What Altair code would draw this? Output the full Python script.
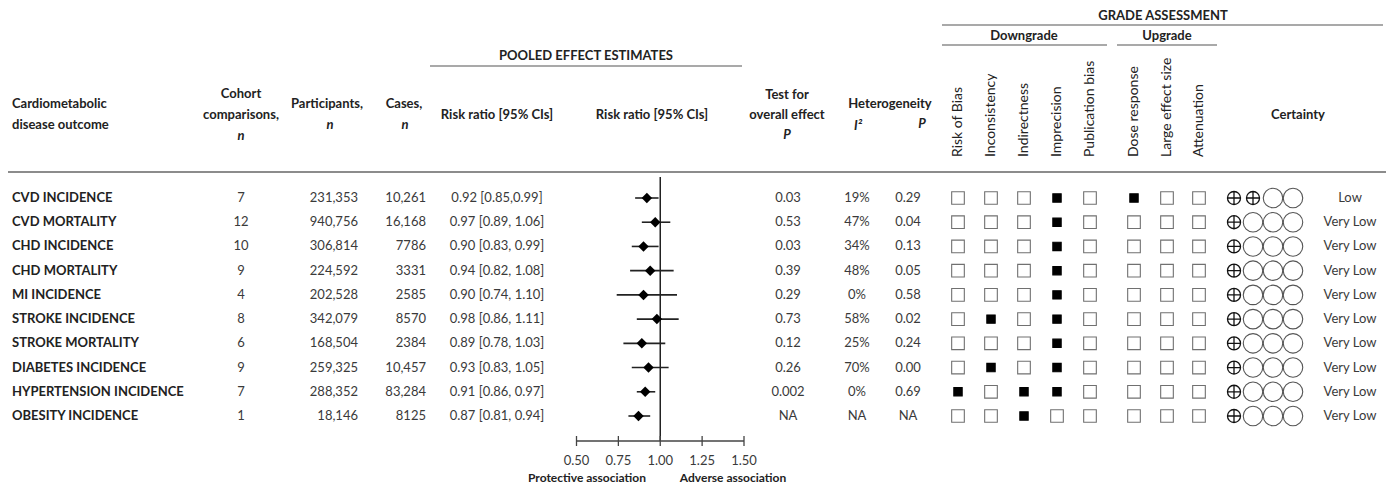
import altair as alt
import pandas as pd

# ---------------- data ----------------
outcomes = ["CVD INCIDENCE", "CVD MORTALITY", "CHD INCIDENCE", "CHD MORTALITY",
            "MI INCIDENCE", "STROKE INCIDENCE", "STROKE MORTALITY",
            "DIABETES INCIDENCE", "HYPERTENSION INCIDENCE", "OBESITY INCIDENCE"]
cohorts = [7, 12, 10, 9, 4, 8, 6, 9, 7, 1]
participants = ["231,353", "940,756", "306,814", "224,592", "202,528",
                "342,079", "168,504", "259,325", "288,352", "18,146"]
cases = ["10,261", "16,168", "7786", "3331", "2585", "8570", "2384",
         "10,457", "83,284", "8125"]
rr = [0.92, 0.97, 0.90, 0.94, 0.90, 0.98, 0.89, 0.93, 0.91, 0.87]
lo = [0.85, 0.89, 0.83, 0.82, 0.74, 0.86, 0.78, 0.83, 0.86, 0.81]
hi = [0.99, 1.06, 0.99, 1.08, 1.10, 1.11, 1.03, 1.05, 0.97, 0.94]
rr_text = ["0.92 [0.85,0.99]", "0.97 [0.89, 1.06]", "0.90 [0.83, 0.99]",
           "0.94 [0.82, 1.08]", "0.90 [0.74, 1.10]", "0.98 [0.86, 1.11]",
           "0.89 [0.78, 1.03]", "0.93 [0.83, 1.05]", "0.91 [0.86, 0.97]",
           "0.87 [0.81, 0.94]"]
p_overall = ["0.03", "0.53", "0.03", "0.39", "0.29", "0.73", "0.12", "0.26", "0.002", "NA"]
i2 = ["19%", "47%", "34%", "48%", "0%", "58%", "25%", "70%", "0%", "NA"]
p_het = ["0.29", "0.04", "0.13", "0.05", "0.58", "0.02", "0.24", "0.00", "0.69", "NA"]

grade_names = ["Risk of Bias", "Inconsistency", "Indirectness", "Imprecision",
               "Publication bias", "Dose response", "Large effect size", "Attenuation"]
risk_of_bias = [0, 0, 0, 0, 0, 0, 0, 0, 1, 0]
inconsistency = [0, 0, 0, 0, 0, 1, 0, 1, 0, 0]
indirectness = [0, 0, 0, 0, 0, 0, 0, 0, 1, 1]
imprecision = [1, 1, 1, 1, 1, 1, 1, 1, 1, 0]
publication_bias = [0, 0, 0, 0, 0, 0, 0, 0, 0, 0]
dose_response = [1, 0, 0, 0, 0, 0, 0, 0, 0, 0]
large_effect = [0, 0, 0, 0, 0, 0, 0, 0, 0, 0]
attenuation = [0, 0, 0, 0, 0, 0, 0, 0, 0, 0]
grade_flags = [risk_of_bias, inconsistency, indirectness, imprecision,
               publication_bias, dose_response, large_effect, attenuation]
certainty = ["Low"] + ["Very Low"] * 9
certainty_plus = {"High": 4, "Moderate": 3, "Low": 2, "Very Low": 1}

tick_values = [0.50, 0.75, 1.00, 1.25, 1.50]
tick_labels = ["0.50", "0.75", "1.00", "1.25", "1.50"]

# ---------------- layout ----------------
W, H = 1378, 479
OFF = 8
def X(px): return px - OFF
def Y(py): return py - OFF

FONT = "Lato"
HEAD = "#222222"
TXT = "#3a3a3a"
FS = 13

n = len(outcomes)
df = pd.DataFrame({
    "row": list(range(n)), "outcome": outcomes,
    "cohorts": [str(c) for c in cohorts], "participants": participants,
    "cases": cases, "rr": rr, "lo": lo, "hi": hi, "rr_text": rr_text,
    "p_overall": p_overall, "i2": i2, "p_het": p_het, "certainty": certainty,
})

yscale = alt.Scale(domain=[0, n - 1], range=[Y(198), Y(416)])
fx = alt.Scale(domain=[0.5, 1.5], range=[X(576.5), X(744)])
one = pd.DataFrame({"a": [0]})

def yrow():
    return alt.Y("row:Q", scale=yscale, axis=None)

layers = []

def col_text(field, px, align, bold=False, color=TXT, size=FS):
    layers.append(alt.Chart(df).mark_text(
        align=align, baseline="middle", font=FONT, fontSize=size,
        fontWeight="bold" if bold else "normal", color=color
    ).encode(x=alt.value(X(px)), y=yrow(), text=f"{field}:N"))

def label(text, px, py, align="center", bold=True, italic=False, size=FS,
          angle=0, color=HEAD):
    kw = dict(align=align, baseline="middle", font=FONT, fontSize=size,
              fontWeight="bold" if bold else "normal", color=color)
    if italic:
        kw["fontStyle"] = "italic"
    if angle:
        kw["angle"] = angle
    layers.append(alt.Chart(one).mark_text(**kw).encode(
        x=alt.value(X(px)), y=alt.value(Y(py)), text=alt.value(text)))

def hline(x1, x2, py, color="#555555", w=1.2):
    layers.append(alt.Chart(one).mark_rule(color=color, strokeWidth=w).encode(
        x=alt.value(X(x1)), x2=alt.value(X(x2)), y=alt.value(Y(py))))

# ---- headers ----
label("Cardiometabolic", 12, 104, align="left")
label("disease outcome", 12, 125, align="left")
label("Cohort", 241, 94)
label("comparisons,", 241, 115)
label("n", 241, 136, italic=True)
label("Participants,", 327, 104)
label("n", 330, 125, italic=True)
label("Cases,", 404, 104)
label("n", 405, 125, italic=True)
label("POOLED EFFECT ESTIMATES", 586, 56)
hline(430, 742, 66)
label("Risk ratio [95% CIs]", 497, 115)
label("Risk ratio [95% CIs]", 652, 115)
label("Test for", 787, 95)
label("overall effect", 787, 115)
label("P", 787, 135, italic=True)
label("Heterogeneity", 890, 104)
label("I\u00b2", 858, 126, italic=True)
label("P", 922, 124, italic=True)
label("GRADE ASSESSMENT", 1163, 16)
hline(942, 1383, 25)
label("Downgrade", 1024, 36)
hline(942, 1107, 45)
label("Upgrade", 1167, 36)
hline(1117, 1217, 45)
grade_x = [958, 991, 1024, 1057, 1090, 1134, 1167, 1199]
for name, gx in zip(grade_names, grade_x):
    label(name, gx, 157, align="left", bold=False, angle=270, color=HEAD, size=14)
label("Certainty", 1298, 115)
hline(8, 1388, 172, color="#666666", w=1.5)

# ---- table columns ----
col_text("outcome", 12, "left", bold=True, color=HEAD)
col_text("cohorts", 241, "center")
col_text("participants", 358, "right")
col_text("cases", 426, "right")
col_text("rr_text", 497, "center")
col_text("p_overall", 788, "center")
col_text("i2", 857, "center")
col_text("p_het", 908, "center")
col_text("certainty", 1350, "center")

# ---- forest plot ----
layers.append(alt.Chart(pd.DataFrame({"ref": [1.0]})).mark_rule(
    color="#222222", strokeWidth=1.5).encode(
    x=alt.X("ref:Q", scale=fx, axis=None),
    y=alt.value(Y(177)), y2=alt.value(Y(441))))
layers.append(alt.Chart(df).mark_rule(color="#222222", strokeWidth=1.6).encode(
    x=alt.X("lo:Q", scale=fx, axis=None), x2="hi:Q", y=yrow()))
layers.append(alt.Chart(df).mark_point(
    shape="diamond", filled=True, size=110, color="black", opacity=1).encode(
    x=alt.X("rr:Q", scale=fx, axis=None), y=yrow()))
ticks = pd.DataFrame({"t": tick_values, "lab": tick_labels})
layers.append(alt.Chart(pd.DataFrame({"a0": [tick_values[0]], "a1": [tick_values[-1]]}))
              .mark_rule(color="#444444", strokeWidth=1.3).encode(
    x=alt.X("a0:Q", scale=fx, axis=None), x2="a1:Q", y=alt.value(Y(441))))
layers.append(alt.Chart(ticks).mark_rule(color="#444444", strokeWidth=1.3).encode(
    x=alt.X("t:Q", scale=fx, axis=None), y=alt.value(Y(436)), y2=alt.value(Y(446))))
layers.append(alt.Chart(ticks).mark_text(
    font=FONT, fontSize=FS, color=TXT, baseline="middle").encode(
    x=alt.X("t:Q", scale=fx, axis=None), y=alt.value(Y(461)), text="lab:N"))
label("Protective association", 587, 478, size=12)
label("Adverse association", 733, 478, size=12)

# ---- GRADE check boxes ----
for flags, gx in zip(grade_flags, grade_x):
    gdf = pd.DataFrame({"row": list(range(n)), "flag": flags})
    cond = "datum.flag == 1"
    layers.append(alt.Chart(gdf).mark_point(
        shape="square", filled=True, strokeWidth=1.1, opacity=1).encode(
        x=alt.value(X(gx)), y=yrow(),
        fill=alt.condition(cond, alt.value("#000000"), alt.value("#ffffff")),
        stroke=alt.condition(cond, alt.value("#000000"), alt.value("#707070")),
        size=alt.condition(cond, alt.value(70), alt.value(160))))

# ---- certainty symbols ----
PLUS = "M-1,0A1,1 0 1,0 1,0A1,1 0 1,0 -1,0ZM-1,0L1,0M0,-1L0,1"
slot_x = [1234, 1253, 1273, 1293]
for s, sx in enumerate(slot_x):
    kinds = ["plus" if s < certainty_plus[c] else "circle" for c in certainty]
    cdf = pd.DataFrame({"row": list(range(n)), "kind": kinds})
    cond = "datum.kind == 'plus'"
    layers.append(alt.Chart(cdf).mark_point(filled=False, opacity=1).encode(
        x=alt.value(X(sx)), y=yrow(),
        shape=alt.condition(cond, alt.value(PLUS), alt.value("circle")),
        size=alt.condition(cond, alt.value(170), alt.value(380)),
        stroke=alt.condition(cond, alt.value("#111111"), alt.value("#555555")),
        strokeWidth=alt.condition(cond, alt.value(1.3), alt.value(1.1))))

chart = alt.layer(*layers).properties(
    width=W, height=H, padding=0,
    autosize=alt.AutoSizeParams(type="none"),
).configure_view(stroke=None)

chart.save("out.html", embed_options={"renderer": "svg", "actions": False})
